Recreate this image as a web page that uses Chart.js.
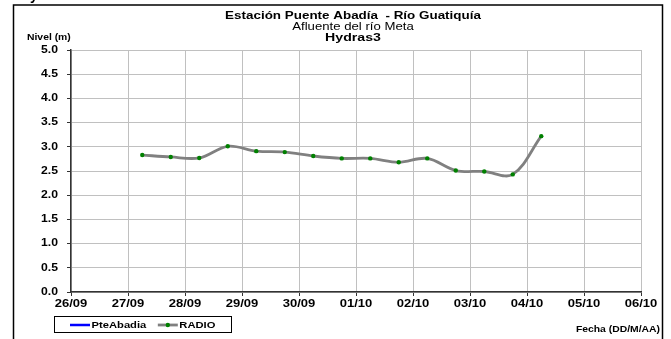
<!DOCTYPE html>
<html>
<head>
<meta charset="utf-8">
<script src="https://cdn.jsdelivr.net/npm/chart.js@4"></script>
<style>
html, body { margin: 0; padding: 0; background: #fff; }
canvas { display: block; }
</style>
</head>
<body>
<canvas id="grafico" width="671" height="339"></canvas>
<script>
// datos
const etiquetasX = ['26/09', '27/09', '28/09', '29/09', '30/09', '01/10', '02/10', '03/10', '04/10', '05/10', '06/10'];
const etiquetasY = ['0.0', '0.5', '1.0', '1.5', '2.0', '2.5', '3.0', '3.5', '4.0', '4.5', '5.0'];
const fechas = ['27/09 06:00', '27/09 18:00', '28/09 06:00', '28/09 18:00', '29/09 06:00', '29/09 18:00',
  '30/09 06:00', '30/09 18:00', '01/10 06:00', '01/10 18:00', '02/10 06:00', '02/10 18:00',
  '03/10 06:00', '03/10 18:00', '04/10 06:00'];
const nivelRadio = [2.83, 2.79, 2.77, 3.01, 2.91, 2.89, 2.81, 2.76, 2.76, 2.68, 2.76, 2.51, 2.49, 2.43, 3.22];
const fechasPteAbadia = [];
const nivelPteAbadia = [];

// "DD/MM HH:MM" -> dias desde 26/09
function dia(f) {
  const partes = f.split(' ');
  const hm = partes[1].split(':');
  return etiquetasX.indexOf(partes[0]) + (Number(hm[0]) + Number(hm[1]) / 60) / 24;
}
function puntos(fs, vs) {
  return fs.map((f, i) => ({ x: dia(f), y: vs[i] }));
}

// el texto del original sale estirado a lo ancho
const K = 1.22;
function texto(ctx, str, x, y, size, bold, align) {
  ctx.save();
  ctx.font = (bold ? 'bold ' : '') + size + 'px Arial, "Liberation Sans", sans-serif';
  ctx.fillStyle = '#000';
  ctx.textBaseline = 'middle';
  ctx.textAlign = align || 'left';
  ctx.translate(x, y);
  ctx.scale(K, 1);
  ctx.fillText(str, 0, 0);
  ctx.restore();
  ctx.save();
  ctx.font = (bold ? 'bold ' : '') + size + 'px Arial, "Liberation Sans", sans-serif';
  const w = ctx.measureText(str).width * K;
  ctx.restore();
  return w;
}

const dibujo = {
  id: 'dibujo',
  afterDraw(chart) {
    const ctx = chart.ctx;
    const xs = chart.scales.x, ys = chart.scales.y;

    // marco
    ctx.save();
    ctx.strokeStyle = '#000';
    ctx.lineWidth = 1.5;
    ctx.strokeRect(13.5, 5, 649, 345);
    ctx.restore();

    // resto del texto cortado arriba
    ctx.save();
    ctx.font = 'bold 14px Arial, "Liberation Sans", sans-serif';
    ctx.fillStyle = '#000';
    ctx.textBaseline = 'alphabetic';
    ctx.fillText('y', 30, 0);
    ctx.restore();

    // titulos
    texto(ctx, 'Estación Puente Abadía  - Río Guatiquía', 353, 16, 11, true, 'center');
    texto(ctx, 'Afluente del río Meta', 353, 27, 10.8, false, 'center');
    texto(ctx, 'Hydras3', 353, 38, 11.6, true, 'center');
    texto(ctx, 'Nivel (m)', 27, 38, 8.5, true, 'left');

    // etiquetas de los ejes
    ys.ticks.forEach((t, i) => {
      texto(ctx, etiquetasY[i], 58, ys.getPixelForTick(i), 10, true, 'right');
    });
    xs.ticks.forEach((t, i) => {
      texto(ctx, etiquetasX[i], xs.getPixelForTick(i), 304.5, 10.7, true, 'center');
    });

    // leyenda
    ctx.save();
    ctx.strokeStyle = '#000';
    ctx.lineWidth = 1;
    ctx.strokeRect(54.5, 316.5, 177, 16);
    ctx.restore();
    let lx = 70;
    chart.data.datasets.forEach(ds => {
      ctx.save();
      ctx.strokeStyle = ds.borderColor;
      ctx.lineWidth = ds.borderWidth;
      ctx.beginPath();
      ctx.moveTo(lx, 325);
      ctx.lineTo(lx + 20, 325);
      ctx.stroke();
      if (ds.pointRadius > 0) {
        ctx.fillStyle = ds.pointBackgroundColor;
        ctx.beginPath();
        ctx.arc(lx + 10, 325, ds.pointRadius, 0, Math.PI * 2);
        ctx.fill();
      }
      ctx.restore();
      const w = texto(ctx, ds.label, lx + 21.5, 325.3, 9.2, true, 'left');
      lx = lx + 21.5 + w + 11.5;
    });

    texto(ctx, 'Fecha (DD/M/AA)', 660, 330, 8.5, true, 'right');
  }
};

new Chart(document.getElementById('grafico'), {
  type: 'line',
  data: {
    datasets: [
      {
        label: 'PteAbadia',
        data: puntos(fechasPteAbadia, nivelPteAbadia),
        borderColor: '#0000ff',
        borderWidth: 2.5,
        pointRadius: 0
      },
      {
        label: 'RADIO',
        data: puntos(fechas, nivelRadio),
        borderColor: '#808080',
        borderWidth: 2.8,
        pointRadius: 2.2,
        pointBackgroundColor: '#008000',
        pointBorderColor: '#008000',
        pointBorderWidth: 0,
        tension: 0.35
      }
    ]
  },
  options: {
    responsive: false,
    animation: false,
    devicePixelRatio: 1,
    layout: { padding: { left: 0, right: 30, top: 50, bottom: 0 } },
    plugins: {
      legend: { display: false },
      title: { display: false },
      tooltip: { enabled: false }
    },
    scales: {
      x: {
        type: 'linear',
        min: 0,
        max: etiquetasX.length - 1,
        ticks: { stepSize: 1, display: false },
        grid: { color: '#c0c0c0', lineWidth: 1, tickColor: '#333', tickLength: 4 },
        border: { color: '#333', width: 1.5 },
        afterFit: s => { s.height = 47; }
      },
      y: {
        min: 0,
        max: 5,
        ticks: { stepSize: 0.5, display: false },
        grid: { color: '#c0c0c0', lineWidth: 1, tickColor: '#333', tickLength: 4 },
        border: { color: '#333', width: 1.5 },
        afterFit: s => { s.width = 71; }
      }
    }
  },
  plugins: [dibujo]
});
</script>
</body>
</html>
